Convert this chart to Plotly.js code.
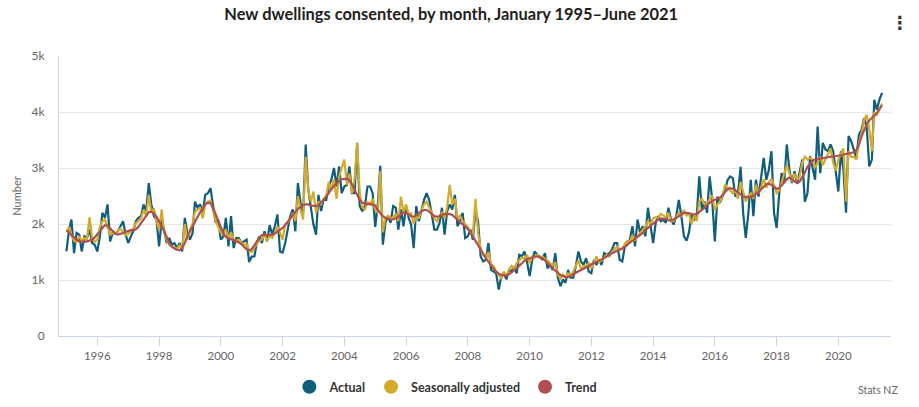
<!DOCTYPE html>
<html>
<head>
<meta charset="utf-8">
<script src="https://cdn.plot.ly/plotly-3.0.1.min.js"></script>
<style>
html,body{margin:0;padding:0;background:#fff;}
#chart{width:919px;height:407px;}
</style>
</head>
<body>
<div id="chart"></div>
<script>
// Monthly series, January 1995 – June 2021
const startYear = 1995;
const startMonth = 1;

const actual = [
// 1995
1510,1900,2080,1480,1840,1810,1510,1780,1750,1900,1660,1630,
// 1996
1510,1780,2200,2110,2350,1690,1840,1830,1870,1960,2050,1810,
// 1997
1660,1780,1870,2050,2110,2140,2350,2230,2730,2350,2140,2080,
// 1998
1600,2080,1850,1660,1750,1630,1660,1570,1660,1510,2110,1840,
// 1999
1720,1840,2400,2290,2350,2200,2520,2550,2640,2320,2020,2080,
// 2000
1720,1780,2110,1600,2140,1570,1750,1750,1660,1690,1720,1320,
// 2001
1420,1420,1660,1780,1660,1870,1690,1980,1810,1960,2170,1510,
// 2002
1490,1660,1900,2140,2260,1870,2730,2380,2200,3420,2610,2320,
// 2003
1990,1810,2520,2230,2430,2430,2670,2790,3000,2670,3030,2550,
// 2004
2670,2700,3030,2550,2550,3450,2320,2230,2320,2670,2670,2550,
// 2005
1950,2370,3040,1630,2020,2140,2020,2320,2290,1900,2260,1960,
// 2006
2320,2110,1990,1570,2320,2050,2260,2430,2550,2430,2170,1900,
// 2007
1900,2020,2290,1810,2230,2350,2260,2520,1960,2050,2200,1750,
// 2008
1780,1900,1720,2250,2050,1420,1330,1360,1660,1180,1150,1120,
// 2009
830,1070,1120,1010,1180,1150,1240,1120,1450,1420,1510,1330,
// 2010
1070,1360,1510,1450,1420,1360,1480,1210,1270,1180,1480,1040,
// 2011
890,1010,950,1180,1040,1040,1240,1510,1330,1270,1390,1150,
// 2012
1120,1360,1270,1360,1270,1480,1450,1480,1540,1660,1660,1360,
// 2013
1330,1600,1630,1720,1960,1600,2080,1840,1960,1780,2290,1960,
// 2014
1660,2020,2140,2050,2080,2020,2290,2080,1990,2140,2430,2140,
// 2015
1780,1700,1850,2170,2080,2140,2850,2260,2400,2200,2850,2430,
// 2016
1690,2490,2380,2490,2610,2790,2850,2820,2490,2550,3020,2200,
// 2017
1750,2200,2790,2140,2790,2490,2790,3180,2790,2970,3300,2200,
// 2018
1930,2550,2910,2730,3420,2970,2730,2940,2730,2970,3150,2400,
// 2019
2550,3210,3030,2790,3740,2910,3450,3330,3300,3420,3300,2970,
// 2020
2580,3300,2970,2200,3570,3480,3330,3180,3600,3680,3890,3740,
// 2021
3030,3150,4220,4040,4220,4340
];

const seasonallyAdjusted = [
// 1995
1860,1950,1800,1700,1680,1780,1700,1750,1720,2120,1750,1680,
// 1996
1720,1950,2050,2080,1950,1800,1850,1820,1880,1920,1850,1800,
// 1997
1820,1880,1920,2020,2050,2100,2250,2150,2520,2200,2280,2050,
// 1998
1900,2260,1850,1720,1620,1600,1580,1560,1620,1550,2000,1720,
// 1999
1900,2000,2220,2250,2300,2100,2350,2400,2420,2220,2050,1950,
// 2000
1850,1820,1900,1750,1850,1720,1700,1720,1660,1620,1650,1520,
// 2001
1500,1580,1650,1700,1720,1820,1700,1780,1750,1850,1950,1850,
// 2002
1720,2000,2020,2080,2200,2050,2500,2250,2080,3200,2600,2400,
// 2003
2580,2200,2400,2350,2450,2500,2750,2620,2800,2450,2850,3000,
// 2004
3150,2700,2900,2550,2800,3450,2550,2300,2250,2400,2350,2450,
// 2005
2250,2200,2940,1850,2100,2150,2100,2120,2180,2050,2490,2200,
// 2006
2350,2150,2200,2000,2150,2100,2250,2350,2400,2300,2200,2100,
// 2007
2050,2150,2200,2100,2300,2700,2350,2450,2100,2150,2050,2000,
// 2008
1950,1850,1800,2450,1850,1550,1450,1400,1500,1280,1250,1150,
// 2009
1100,1020,1150,1080,1180,1250,1200,1300,1350,1400,1380,1450,
// 2010
1300,1420,1400,1450,1400,1420,1380,1350,1300,1250,1320,1100,
// 2011
1020,1100,1050,1120,1080,1150,1250,1350,1200,1250,1250,1300,
// 2012
1200,1300,1420,1320,1350,1400,1450,1420,1500,1550,1600,1550,
// 2013
1550,1650,1700,1680,1800,1720,1780,1850,1900,1950,2050,2000,
// 2014
2100,2120,2100,2180,2150,2120,2200,2050,2050,2120,2200,2150,
// 2015
2250,2150,2200,2000,2150,2050,2400,2450,2350,2350,2450,2500,
// 2016
2250,2350,2400,2500,2700,2650,2600,2550,2600,2450,2750,2550,
// 2017
2400,2500,2550,2450,2700,2550,2650,2800,2650,2750,2800,2700,
// 2018
2550,2600,2750,2900,3050,2900,2750,2900,2800,2850,3100,3200,
// 2019
3150,3180,3150,3000,3100,3200,3050,3150,3250,3350,3100,2950,
// 2020
3150,3250,3350,2400,3300,3200,3200,3150,3450,3600,3850,3950,
// 2021
3700,3300,4000,3950,4050,4150
];

const trend = [
// 1995
1880,1850,1800,1750,1720,1690,1680,1680,1690,1700,1720,1760,
// 1996
1810,1870,1930,1980,1970,1920,1870,1830,1810,1820,1840,1860,
// 1997
1880,1890,1890,1900,1950,2020,2090,2160,2210,2220,2190,2130,
// 1998
2050,1970,1880,1770,1660,1600,1560,1540,1530,1570,1660,1780,
// 1999
1870,1960,2050,2140,2210,2270,2350,2380,2370,2290,2170,2050,
// 2000
1930,1830,1770,1740,1730,1710,1700,1670,1640,1600,1550,1530,
// 2001
1550,1620,1690,1760,1800,1810,1800,1800,1810,1830,1860,1890,
// 2002
1930,1980,2040,2100,2160,2220,2270,2310,2340,2350,2350,2330,
// 2003
2320,2320,2340,2380,2430,2490,2560,2620,2680,2730,2770,2800,
// 2004
2810,2810,2780,2710,2610,2510,2430,2380,2360,2350,2360,2350,
// 2005
2330,2250,2190,2140,2110,2090,2080,2080,2100,2130,2170,2200,
// 2006
2200,2170,2140,2130,2150,2190,2230,2250,2250,2220,2180,2140,
// 2007
2130,2140,2170,2180,2180,2180,2160,2120,2080,2040,2000,1960,
// 2008
1910,1850,1780,1710,1630,1550,1470,1390,1320,1260,1200,1150,
// 2009
1110,1090,1080,1080,1100,1130,1170,1210,1260,1300,1340,1370,
// 2010
1390,1410,1420,1420,1410,1390,1350,1310,1260,1210,1170,1130,
// 2011
1090,1070,1050,1050,1070,1100,1130,1160,1180,1200,1220,1250,
// 2012
1280,1300,1320,1340,1360,1390,1420,1450,1480,1500,1520,1540,
// 2013
1560,1590,1630,1670,1710,1740,1770,1800,1840,1890,1930,1980,
// 2014
2020,2060,2080,2100,2100,2090,2070,2060,2080,2110,2150,2180,
// 2015
2200,2200,2190,2170,2170,2180,2210,2250,2290,2340,2380,2410,
// 2016
2430,2440,2470,2520,2570,2620,2640,2630,2600,2560,2520,2490,
// 2017
2480,2480,2490,2500,2530,2570,2620,2670,2710,2720,2700,2660,
// 2018
2630,2640,2690,2750,2800,2830,2800,2760,2730,2760,2830,2920,
// 2019
3020,3090,3130,3150,3160,3170,3180,3190,3200,3210,3210,3210,
// 2020
3220,3230,3250,3260,3270,3270,3280,3320,3420,3560,3690,3780,
// 2021
3850,3890,3930,3980,4050,4120
];

const seriesNames = ["Actual", "Seasonally adjusted", "Trend"];
const seriesColors = ["#0f5e7c", "#d4aa2c", "#b14f4f"];
const tickYears = [1996,1998,2000,2002,2004,2006,2008,2010,2012,2014,2016,2018,2020];
const yTicks = [0,1000,2000,3000,4000,5000];

// month dates
const months = actual.map((_, i) => {
  const total = (startMonth - 1) + i;
  const y = startYear + Math.floor(total / 12);
  const m = (total % 12) + 1;
  return y + "-" + String(m).padStart(2, "0") + "-01";
});

const FONT = "Lato, 'Open Sans', sans-serif";
const seriesData = [actual, seasonallyAdjusted, trend];

const traces = [];
seriesData.forEach((vals, i) => {
  traces.push({
    type: "scatter", mode: "lines",
    x: months, y: vals, name: seriesNames[i],
    legendgroup: seriesNames[i], showlegend: false,
    line: {color: seriesColors[i], width: 2.2},
    hovertemplate: "%{x|%b %Y}: %{y:,}<extra>" + seriesNames[i] + "</extra>"
  });
});
// legend entries with circle symbols
seriesNames.forEach((n, i) => {
  traces.push({
    type: "scatter", mode: "markers",
    x: [null], y: [null], name: n, legendgroup: n, showlegend: true,
    marker: {color: seriesColors[i], size: 14, symbol: "circle"},
    hoverinfo: "skip"
  });
});

const layout = {
  width: 919, height: 407,
  margin: {l: 59, r: 28, t: 56, b: 71, autoexpand: false},
  paper_bgcolor: "#fff", plot_bgcolor: "#fff",
  font: {family: FONT, color: "#666"},
  title: {
    text: "<b>New dwellings consented, by month, January 1995–June 2021</b>",
    font: {family: FONT, size: 16.4, color: "#1e1e1e"},
    x: 0.491, xref: "container", xanchor: "center",
    y: 0.966, yref: "container", yanchor: "middle"
  },
  xaxis: {
    type: "date",
    range: ["1994-10-05", "2021-09-15"],
    tickvals: tickYears.map(y => y + "-01-01"),
    ticktext: tickYears.map(String),
    ticks: "outside", ticklen: 9, tickcolor: "#ccd6eb", tickwidth: 1,
    showline: true, linecolor: "#ccd6eb", linewidth: 1,
    showgrid: false, zeroline: false,
    tickfont: {family: FONT, size: 11.5, color: "#666"}
  },
  yaxis: {
    range: [0, 5000],
    tickvals: yTicks, tickformat: "~s",
    showgrid: true, gridcolor: "#e6e6e6", gridwidth: 1,
    showline: true, linecolor: "#ccd6eb", linewidth: 1,
    zeroline: false, ticks: "",
    ticklabelstandoff: 11,
    tickfont: {family: FONT, size: 12, color: "#666"},
    title: {text: "Number", font: {family: FONT, size: 11, color: "#666"}, standoff: 7}
  },
  showlegend: true,
  legend: {
    orientation: "h", x: 0.465, xanchor: "center",
    yref: "container", y: 0.049, yanchor: "middle",
    font: {family: FONT, size: 12.5, color: "#333", weight: "bold"},
    itemwidth: 30, itemclick: "toggleothers",
    bgcolor: "rgba(0,0,0,0)"
  },
  annotations: [
    {text: "Stats NZ", xref: "paper", yref: "paper", x: 1.011, y: -0.193,
     xanchor: "right", yanchor: "middle", showarrow: false,
     font: {family: FONT, size: 10.5, color: "#666"}},
    {text: "<b>⋮</b>", xref: "paper", yref: "paper", x: 1.011, y: 1.121,
     xanchor: "center", yanchor: "middle", showarrow: false,
     font: {family: "DejaVu Sans", size: 18, color: "#333"}}
  ]
};

Plotly.newPlot("chart", traces, layout, {displayModeBar: false, responsive: false});
</script>
</body>
</html>
